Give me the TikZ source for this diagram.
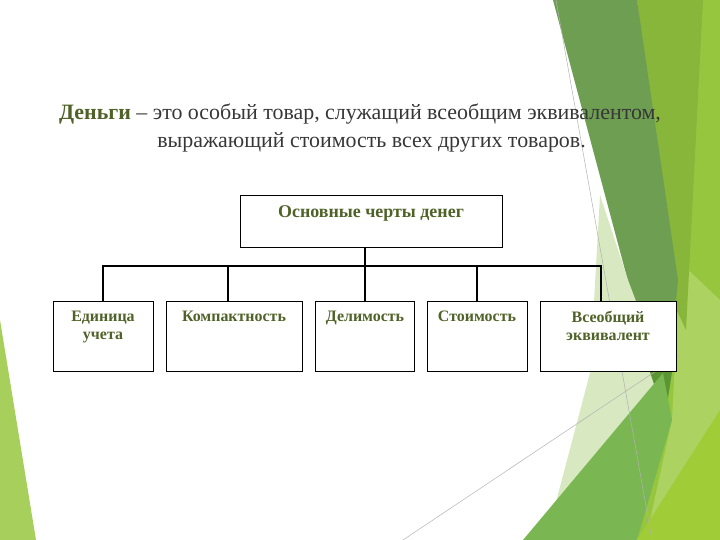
\documentclass[tikz,border=0pt]{standalone}
\usepackage{fontspec}
\setmainfont{Liberation Serif}
\usetikzlibrary{positioning}
\definecolor{olivetext}{RGB}{79,98,40}
\definecolor{titlegray}{RGB}{55,55,55}
\definecolor{leafdark}{RGB}{110,158,82}
\definecolor{leafmid}{RGB}{136,182,58}
\definecolor{leaflime}{RGB}{150,198,62}
\definecolor{leaflight}{RGB}{172,210,98}
\definecolor{leafgrass}{RGB}{122,182,82}
\definecolor{leafpale}{RGB}{216,232,192}
\definecolor{leafdeep}{RGB}{92,150,50}
\tikzset{
  box/.style={draw=black, line width=1bp, fill=white, minimum height=70bp, inner sep=0pt},
  feat/.style={font=\bfseries\fontsize{16}{18}\selectfont, text=olivetext, align=center, inner sep=0pt},
  deftext/.style={font=\fontsize{22}{28}\selectfont, text=titlegray, inner sep=0pt},
  link/.style={line width=1.4bp},
  hairline/.style={draw=black!30, line width=0.5bp}
}
\begin{document}
\begin{tikzpicture}[x=1bp,y=-1bp]
\useasboundingbox (0,0) rectangle (720,540);
% background facets
\fill[leaflime!85!white] (0,320) -- (36,540) -- (0,540) -- cycle;
\fill[leaflime] (637,0) -- (720,0) -- (720,540) -- (637,540) -- (665,418) -- (676,280) -- cycle;
\fill[leaflight] (680,262) -- (720,300) -- (720,470) -- (650,520) -- (672,420) -- cycle;
\fill[leafmid] (637,0) -- (703,0) -- (686,330) -- (672,300) -- cycle;
\fill[leafdark] (553,0) -- (637,0) -- (678,280) -- (665,418) -- (625,270) -- cycle;
\fill[leafpale] (600,195) -- (628,280) -- (663,373) -- (556,502) -- (590,373) -- cycle;
\fill[leafdeep] (650,372) -- (672,372) -- (665,418) -- cycle;
\fill[leafgrass] (523,540) -- (663,373) -- (672,420) -- (637,540) -- cycle;
\fill[leaflime!90!yellow] (637,540) -- (720,410) -- (720,540) -- cycle;
\draw[hairline] (556,0) -- (652,540);
\draw[hairline] (403,540) -- (680,355);
% definition
\node[deftext] (def1) at (360,114)
  {\textbf{\textcolor{olivetext}{Деньги}} -- это особый товар, служащий всеобщим эквивалентом,};
\node[deftext] (def2) at (371.5,142) {выражающий стоимость всех других товаров.};
% top box
\node[box, minimum width=262bp, minimum height=51bp] (osn) at (371,221.5) {};
\node[feat, font=\bfseries\fontsize{18}{20}\selectfont, below=10bp of osn.north] (osnt) {Основные черты денег};
% feature boxes
\foreach \nm/\cx/\w/\txt in {ed/103/100bp/{Единица\\учета},
                               ko/234/136bp/{Компактность},
                               de/365/99bp/{Делимость},
                               st/477/100bp/{Стоимость},
                               vs/608/136bp/{Всеобщий\\эквивалент}}
{
  \node[box, minimum width=\w] (\nm) at (\cx,336) {};
  \node[feat, below=10bp of \nm.north] (\nm t) {\txt};
}
\coordinate (bus) at (0,266);
\draw[link] (osn.south -| de.north) -- (de.north);
\draw[link] (ed.north) -- (ed.north |- bus) -- ([xshift=-7bp]vs.north |- bus) -- ([xshift=-7bp]vs.north);
\draw[link] ([xshift=-6bp]ko.north) -- ([xshift=-6bp]ko.north |- bus);
\draw[link] (st.north) -- (st.north |- bus);
\end{tikzpicture}
\end{document}
